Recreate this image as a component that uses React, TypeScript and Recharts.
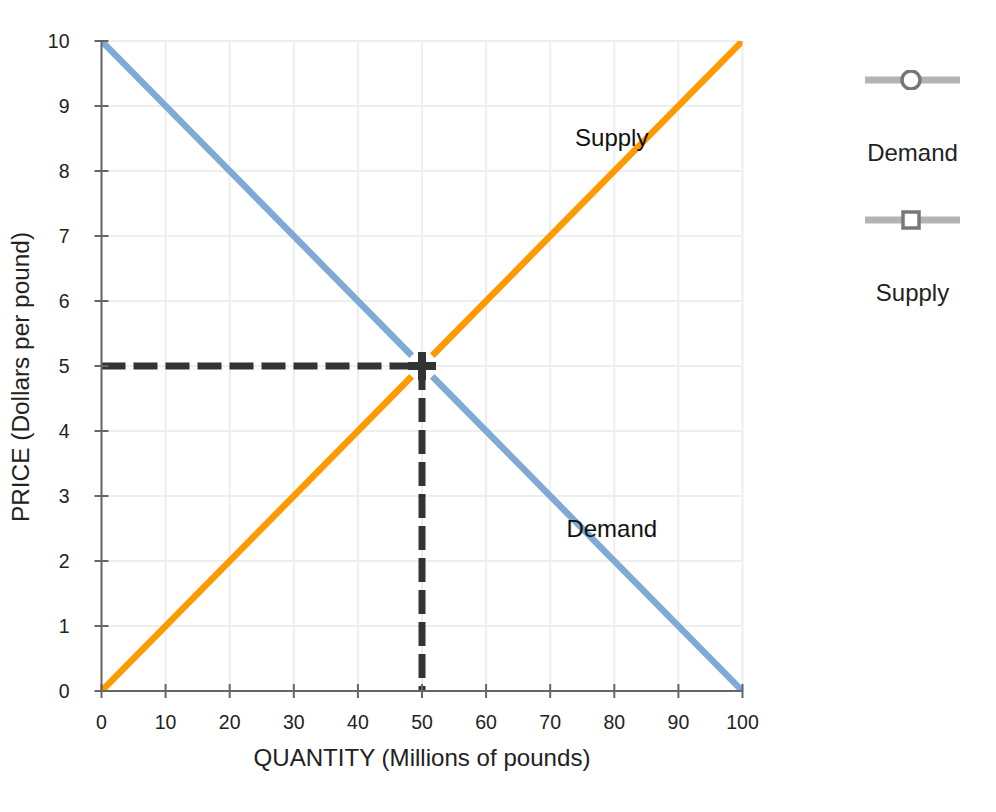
import React from 'react';
import { LineChart, Line, XAxis, YAxis, CartesianGrid, ReferenceDot, Legend } from 'recharts';

const xTicks = [0, 10, 20, 30, 40, 50, 60, 70, 80, 90, 100];
const yTicks = [0, 1, 2, 3, 4, 5, 6, 7, 8, 9, 10];

const demandData = [
  { q: 0, p: 10 },
  { q: 48.4, p: 5.16 },
  { q: 50, p: null },
  { q: 51.6, p: 4.84 },
  { q: 100, p: 0 },
];

const supplyData = [
  { q: 0, p: 0 },
  { q: 48.4, p: 4.84 },
  { q: 50, p: null },
  { q: 51.6, p: 5.16 },
  { q: 100, p: 10 },
];

const equilibrium = { q: 50, p: 5 };
const priceDash = [{ q: 0, p: 5 }, { q: 50, p: 5 }];
const quantityDash = [{ q: 50, p: 5 }, { q: 50, p: 0 }];

const curveLabels = [
  { q: 79.6, p: 8.52, text: 'Supply' },
  { q: 79.6, p: 2.5, text: 'Demand' },
];

const legendItems = [
  { name: 'Demand', marker: 'circle' },
  { name: 'Supply', marker: 'square' },
];

const FONT = "Arial, 'Liberation Sans', sans-serif";
const TICK = 7;
const X_MARGIN = 17;
const Y_MARGIN = 25;

const LegendContent = () => (
  <div style={{ position: 'relative', width: 95, height: 260, fontFamily: FONT }}>
    {legendItems.map((it, i) => (
      <div key={it.name} style={{ position: 'absolute', left: 0, top: i * 140, width: 95 }}>
        <svg width={95} height={20} style={{ display: 'block' }}>
          <line x1={0} y1={10} x2={95} y2={10} stroke="#b3b3b3" strokeWidth={7} />
          {it.marker === 'circle' ? (
            <circle cx={46} cy={10} r={9} fill="#fff" stroke="#777" strokeWidth={3.5} />
          ) : (
            <rect x={38} y={2} width={16} height={16} fill="#fff" stroke="#777" strokeWidth={3.5} />
          )}
        </svg>
        <div style={{ marginTop: 49, lineHeight: '28px', fontSize: 24, color: '#222', textAlign: 'center', width: 95 }}>
          {it.name}
        </div>
      </div>
    ))}
  </div>
);

const XTick = (props: any) => {
  const { x, y, payload } = props;
  const axisY = y - X_MARGIN - TICK;
  return (
    <g>
      <line x1={x} x2={x} y1={axisY - TICK} y2={axisY + TICK} stroke="#666" strokeWidth={2} />
      <text x={x} y={y} dy="0.71em" textAnchor="middle" fill="#222" fontSize={19.5} fontFamily={FONT}>
        {payload.value}
      </text>
    </g>
  );
};

const YTick = (props: any) => {
  const { x, y, payload } = props;
  const axisX = x + Y_MARGIN + TICK;
  return (
    <g>
      <line x1={axisX - TICK} x2={axisX + TICK} y1={y} y2={y} stroke="#666" strokeWidth={2} />
      <text x={x} y={y} dy="0.355em" textAnchor="end" fill="#222" fontSize={19.5} fontFamily={FONT}>
        {payload.value}
      </text>
    </g>
  );
};

const Cross = (props: any) => {
  const { cx, cy } = props;
  if (cx == null || cy == null) return null;
  return (
    <path
      d={`M${cx - 14},${cy} L${cx + 14},${cy} M${cx},${cy - 14} L${cx},${cy + 14}`}
      stroke="#333"
      strokeWidth={8}
      fill="none"
    />
  );
};

export default function App() {
  return (
    <div style={{ position: 'relative', width: 980, height: 773, fontFamily: FONT }}>
      <LineChart
        width={980}
        height={773}
        margin={{ top: 33, right: 245.5, bottom: 10, left: 0 }}
        style={{ fontFamily: FONT }}
      >
        <CartesianGrid stroke="#eeeeee" strokeWidth={2} />
        <XAxis
          dataKey="q"
          type="number"
          domain={[0, 100]}
          ticks={xTicks}
          allowDataOverflow
          height={80}
          tickSize={TICK}
          tickMargin={X_MARGIN}
          tickLine={false}
          stroke="#666"
          strokeWidth={2}
          tick={<XTick />}
          label={{ value: 'QUANTITY (Millions of pounds)', position: 'insideBottom', offset: 5, fill: '#222', fontSize: 24.1 }}
        />
        <YAxis
          dataKey="p"
          type="number"
          domain={[0, 10]}
          ticks={yTicks}
          allowDataOverflow
          width={93.5}
          tickSize={TICK}
          tickMargin={Y_MARGIN}
          tickLine={false}
          stroke="#666"
          strokeWidth={2}
          tick={<YTick />}
          label={{ value: 'PRICE (Dollars per pound)', angle: -90, position: 'center', dx: -34, dy: 11, fill: '#222', fontSize: 24.4 }}
        />
        <Legend
          layout="vertical"
          align="center"
          verticalAlign="middle"
          wrapperStyle={{ left: 857, top: 62, width: 95, height: 260 }}
          content={() => <LegendContent />}
        />
        <Line
          data={priceDash}
          dataKey="p"
          stroke="#333"
          strokeWidth={7}
          strokeDasharray="24 8"
          dot={false}
          activeDot={false}
          isAnimationActive={false}
          legendType="none"
        />
        <Line
          data={quantityDash}
          dataKey="p"
          stroke="#333"
          strokeWidth={7}
          strokeDasharray="24 8"
          dot={false}
          activeDot={false}
          isAnimationActive={false}
          legendType="none"
        />
        <Line
          data={demandData}
          dataKey="p"
          name="Demand"
          stroke="#7eaad3"
          strokeWidth={6.5}
          dot={false}
          activeDot={false}
          isAnimationActive={false}
        />
        <Line
          data={supplyData}
          dataKey="p"
          name="Supply"
          stroke="#ff9900"
          strokeWidth={6.5}
          dot={false}
          activeDot={false}
          isAnimationActive={false}
        />
        <ReferenceDot x={equilibrium.q} y={equilibrium.p} r={0} shape={Cross} />
        {curveLabels.map((l) => (
          <ReferenceDot
            key={l.text}
            x={l.q}
            y={l.p}
            r={0}
            fill="none"
            stroke="none"
            label={{ value: l.text, position: 'center', fill: '#111', fontSize: 24 }}
          />
        ))}
      </LineChart>
    </div>
  );
}
